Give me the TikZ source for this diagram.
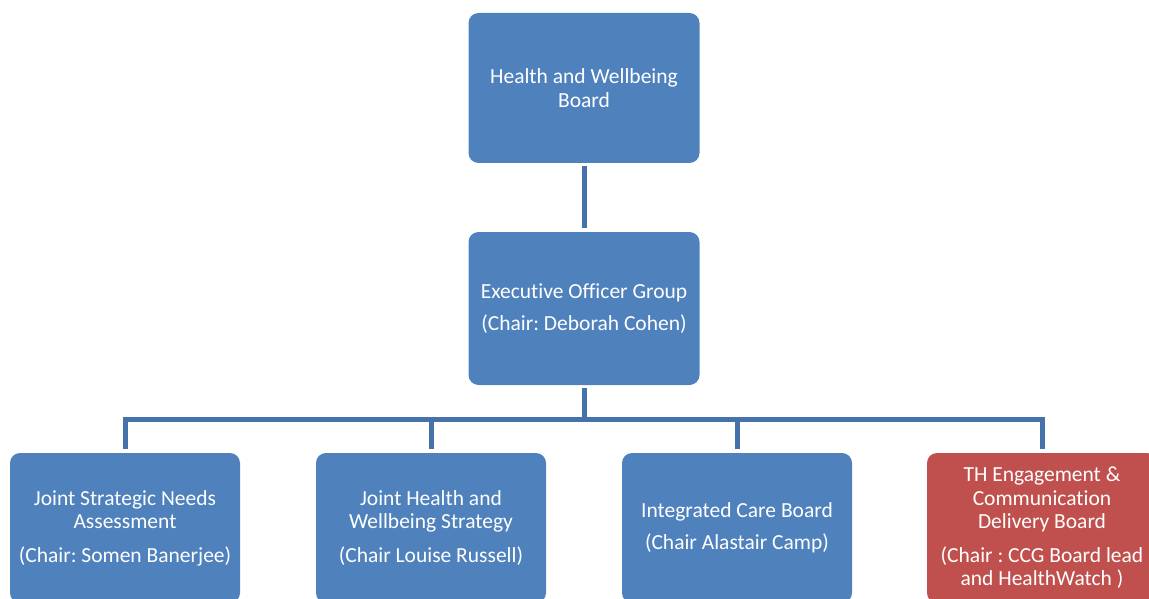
\documentclass[tikz,border=0pt]{standalone}
\usepackage{fontspec}
\setmainfont{Carlito}[Ligatures=NoCommon]
\usepackage{tikz}
\frenchspacing
\definecolor{boardblue}{HTML}{4F81BD}
\definecolor{boardred}{HTML}{C0504D}
\definecolor{linkblue}{HTML}{4672AB}
\tikzstyle{board}=[fill=boardblue, rounded corners=10pt, minimum width=230pt,
    minimum height=150pt, text=white, align=center,
    font=\fontsize{21.5}{23.5}\selectfont]
\tikzstyle{board_red}=[board, fill=boardred]
\tikzstyle{link}=[draw=linkblue, line width=5pt, shorten <=3pt, shorten >=4pt]
\begin{document}
\begin{tikzpicture}[x=1pt, y=-1pt]
          \useasboundingbox (0,0) rectangle (1149,599);
          \node[board, minimum width=231pt] (hwb) at (584,88){Health and Wellbeing\\Board};
          \node[board, minimum width=231pt, minimum height=153pt] (eog) at (584,308.5){Executive Officer Group\\[9pt](Chair: Deborah Cohen)};
          \draw[link](hwb) -- (eog);
          \node[board] (jsna) at (125,528){Joint Strategic Needs\\Assessment\\[10pt](Chair: Somen Banerjee)};
          \node[board] (jhws) at (431,528){Joint Health and\\Wellbeing Strategy\\[10pt](Chair Louise Russell)};
          \node[board] (icb) at (737,528){Integrated Care Board\\[9pt](Chair Alastair Camp)};
          \node[board_red] (thecd) at (1042,528){TH Engagement \&\\Communication\\Delivery Board\\[10pt](Chair : CCG Board lead\\and HealthWatch )};
          \draw[link](eog.south) -- ++(0,34) -| (jsna.north);
          \draw[link](eog.south) -- ++(0,34) -| (jhws.north);
          \draw[link](eog.south) -- ++(0,34) -| (icb.north);
          \draw[link](eog.south) -- ++(0,34) -| (thecd.north);
        \end{tikzpicture}
\end{document}
